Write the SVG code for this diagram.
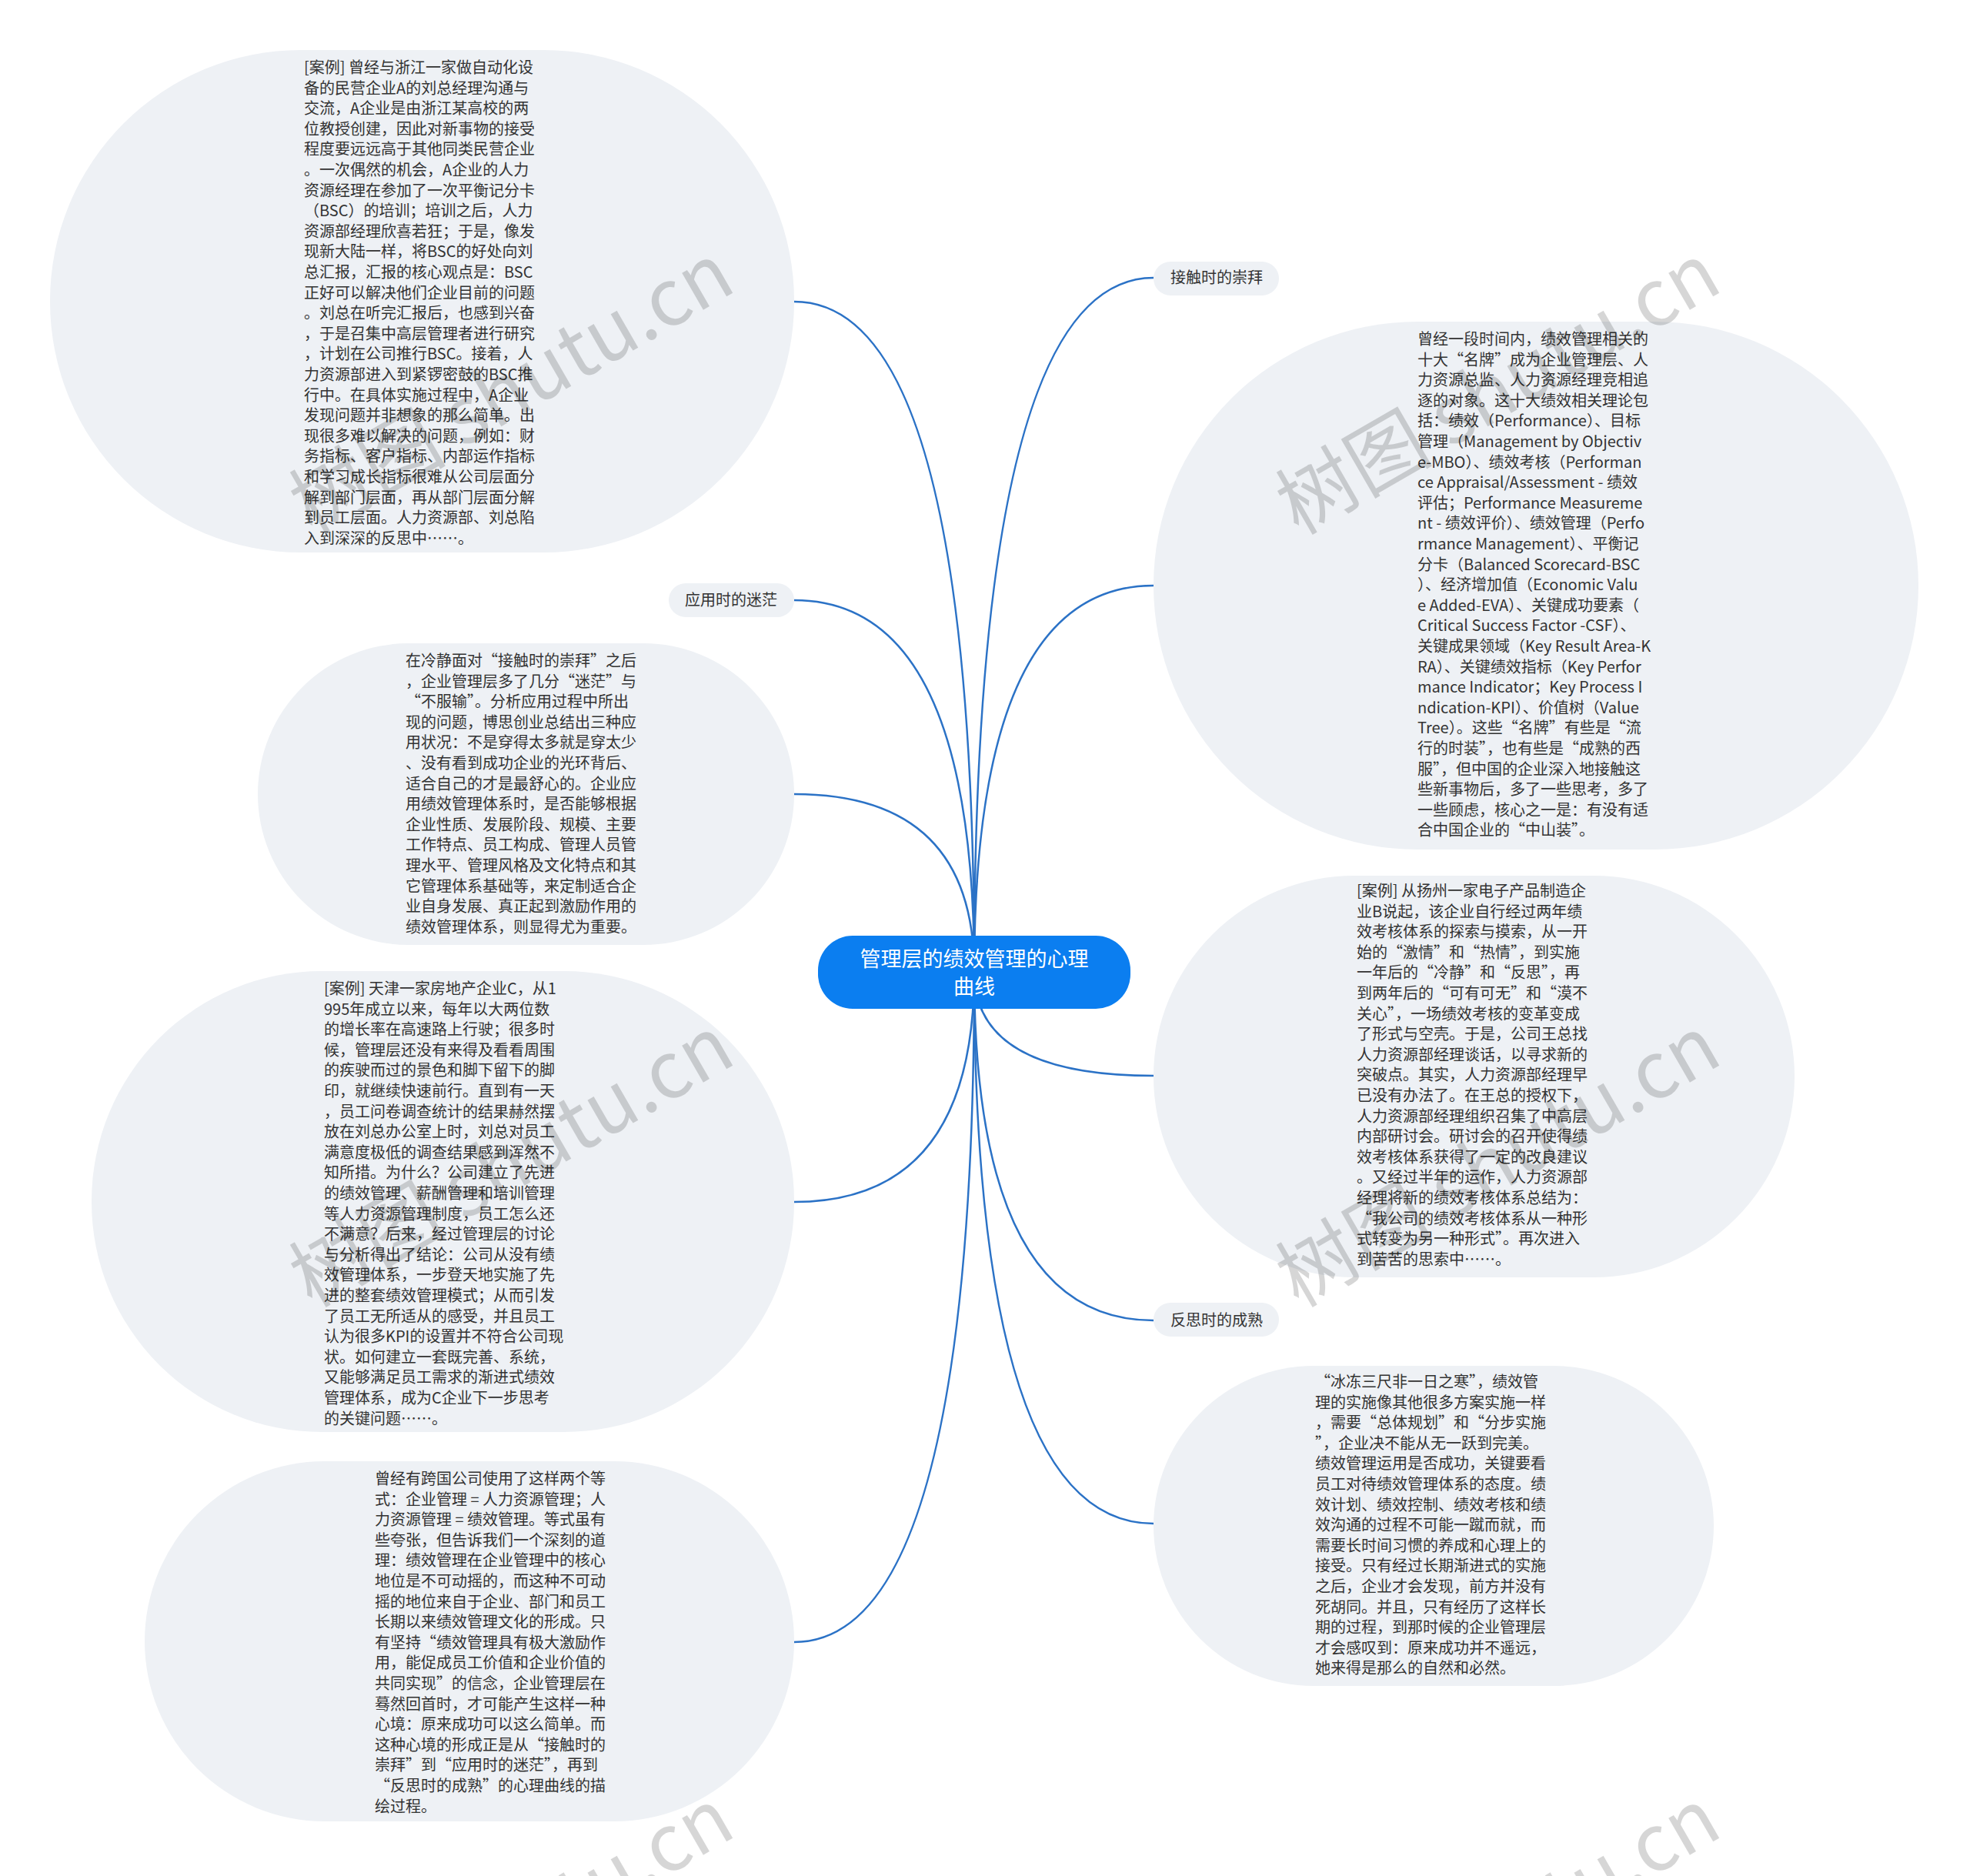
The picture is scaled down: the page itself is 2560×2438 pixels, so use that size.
<svg xmlns="http://www.w3.org/2000/svg" width="2560" height="2438" viewBox="0 0 2560 2438">
<style>
.bub{fill:#eef1f5;}
.t{font-family:"Noto Sans CJK SC","Noto Sans",sans-serif;font-size:20px;fill:#333333;}
.lbl{font-family:"Noto Sans CJK SC","Noto Sans",sans-serif;font-size:20px;fill:#333333;text-anchor:middle;}
.ctr{font-family:"Noto Sans CJK SC","Noto Sans",sans-serif;font-size:27px;fill:#ffffff;text-anchor:middle;}
.wm{font-family:"Noto Sans CJK SC","Noto Sans",sans-serif;font-size:102px;fill:#000000;fill-opacity:0.16;text-anchor:middle;}
.c{fill:none;stroke:#2b72c6;stroke-width:2.5;}
</style>
<rect width="2560" height="2438" fill="#ffffff"/>
<g id="connectors">
<path class="c" d="M1266 1263 Q1266 361 1499 361"/>
<path class="c" d="M1266 1263 Q1266 761 1499 761"/>
<path class="c" d="M1266 1263 Q1266 1398 1499 1398"/>
<path class="c" d="M1266 1263 Q1266 1716 1499 1716"/>
<path class="c" d="M1266 1263 Q1266 1980 1499 1980"/>
<path class="c" d="M1266 1263 Q1266 392 1032 392"/>
<path class="c" d="M1266 1263 Q1266 780 1032 780"/>
<path class="c" d="M1266 1263 Q1266 1032 1032 1032"/>
<path class="c" d="M1266 1263 Q1266 1562 1032 1562"/>
<path class="c" d="M1266 1263 Q1266 2134 1032 2134"/>
</g>
<g id="center">
<rect x="1063" y="1216" width="406" height="95" rx="45" fill="#0b7ef0"/>
<text class="ctr" x="1266" y="1256">管理层的绩效管理的心理</text>
<text class="ctr" x="1266" y="1292">曲线</text>
</g>
<g id="n-jiechu">
<rect class="bub" x="1499" y="340" width="163" height="44" rx="22"/>
<text class="lbl" x="1581" y="368">接触时的崇拜</text>
</g>
<g id="n-r1">
<rect class="bub" x="1499" y="418" width="994" height="686" rx="343"/>
<text class="t" x="1842" y="448"><tspan x="1842">曾经一段时间内，绩效管理相关的</tspan><tspan x="1842" dy="26.6">十大“名牌”成为企业管理层、人</tspan><tspan x="1842" dy="26.6">力资源总监、人力资源经理竞相追</tspan><tspan x="1842" dy="26.6">逐的对象。这十大绩效相关理论包</tspan><tspan x="1842" dy="26.6">括：绩效（Performance）、目标</tspan><tspan x="1842" dy="26.6">管理（Management by Objectiv</tspan><tspan x="1842" dy="26.6">e-MBO）、绩效考核（Performan</tspan><tspan x="1842" dy="26.6">ce Appraisal/Assessment - 绩效</tspan><tspan x="1842" dy="26.6">评估；Performance Measureme</tspan><tspan x="1842" dy="26.6">nt - 绩效评价）、绩效管理（Perfo</tspan><tspan x="1842" dy="26.6">rmance Management）、平衡记</tspan><tspan x="1842" dy="26.6">分卡（Balanced Scorecard-BSC</tspan><tspan x="1842" dy="26.6">）、经济增加值（Economic Valu</tspan><tspan x="1842" dy="26.6">e Added-EVA）、关键成功要素（</tspan><tspan x="1842" dy="26.6">Critical Success Factor -CSF）、</tspan><tspan x="1842" dy="26.6">关键成果领域（Key Result Area-K</tspan><tspan x="1842" dy="26.6">RA）、关键绩效指标（Key Perfor</tspan><tspan x="1842" dy="26.6">mance Indicator；Key Process I</tspan><tspan x="1842" dy="26.6">ndication-KPI）、价值树（Value</tspan><tspan x="1842" dy="26.6">Tree）。这些“名牌”有些是“流</tspan><tspan x="1842" dy="26.6">行的时装”，也有些是“成熟的西</tspan><tspan x="1842" dy="26.6">服”，但中国的企业深入地接触这</tspan><tspan x="1842" dy="26.6">些新事物后，多了一些思考，多了</tspan><tspan x="1842" dy="26.6">一些顾虑，核心之一是：有没有适</tspan><tspan x="1842" dy="26.6">合中国企业的“中山装”。</tspan></text>
</g>
<g id="n-r2">
<rect class="bub" x="1499" y="1138" width="833" height="522" rx="261"/>
<text class="t" x="1763" y="1165"><tspan x="1763">[案例] 从扬州一家电子产品制造企</tspan><tspan x="1763" dy="26.6">业B说起，该企业自行经过两年绩</tspan><tspan x="1763" dy="26.6">效考核体系的探索与摸索，从一开</tspan><tspan x="1763" dy="26.6">始的“激情”和“热情”，到实施</tspan><tspan x="1763" dy="26.6">一年后的“冷静”和“反思”，再</tspan><tspan x="1763" dy="26.6">到两年后的“可有可无”和“漠不</tspan><tspan x="1763" dy="26.6">关心”，一场绩效考核的变革变成</tspan><tspan x="1763" dy="26.6">了形式与空壳。于是，公司王总找</tspan><tspan x="1763" dy="26.6">人力资源部经理谈话，以寻求新的</tspan><tspan x="1763" dy="26.6">突破点。其实，人力资源部经理早</tspan><tspan x="1763" dy="26.6">已没有办法了。在王总的授权下，</tspan><tspan x="1763" dy="26.6">人力资源部经理组织召集了中高层</tspan><tspan x="1763" dy="26.6">内部研讨会。研讨会的召开使得绩</tspan><tspan x="1763" dy="26.6">效考核体系获得了一定的改良建议</tspan><tspan x="1763" dy="26.6">。又经过半年的运作，人力资源部</tspan><tspan x="1763" dy="26.6">经理将新的绩效考核体系总结为：</tspan><tspan x="1763" dy="26.6">“我公司的绩效考核体系从一种形</tspan><tspan x="1763" dy="26.6">式转变为另一种形式”。再次进入</tspan><tspan x="1763" dy="26.6">到苦苦的思索中……。</tspan></text>
</g>
<g id="n-fansi">
<rect class="bub" x="1499" y="1693" width="163" height="44" rx="22"/>
<text class="lbl" x="1581" y="1723">反思时的成熟</text>
</g>
<g id="n-r3">
<rect class="bub" x="1499" y="1775" width="728" height="416" rx="208"/>
<text class="t" x="1709" y="1803"><tspan x="1709">“冰冻三尺非一日之寒”，绩效管</tspan><tspan x="1709" dy="26.6">理的实施像其他很多方案实施一样</tspan><tspan x="1709" dy="26.6">，需要“总体规划”和“分步实施</tspan><tspan x="1709" dy="26.6">”，企业决不能从无一跃到完美。</tspan><tspan x="1709" dy="26.6">绩效管理运用是否成功，关键要看</tspan><tspan x="1709" dy="26.6">员工对待绩效管理体系的态度。绩</tspan><tspan x="1709" dy="26.6">效计划、绩效控制、绩效考核和绩</tspan><tspan x="1709" dy="26.6">效沟通的过程不可能一蹴而就，而</tspan><tspan x="1709" dy="26.6">需要长时间习惯的养成和心理上的</tspan><tspan x="1709" dy="26.6">接受。只有经过长期渐进式的实施</tspan><tspan x="1709" dy="26.6">之后，企业才会发现，前方并没有</tspan><tspan x="1709" dy="26.6">死胡同。并且，只有经历了这样长</tspan><tspan x="1709" dy="26.6">期的过程，到那时候的企业管理层</tspan><tspan x="1709" dy="26.6">才会感叹到：原来成功并不遥远，</tspan><tspan x="1709" dy="26.6">她来得是那么的自然和必然。</tspan></text>
</g>
<g id="n-l1">
<rect class="bub" x="65" y="65" width="967" height="653" rx="326"/>
<text class="t" x="395" y="95"><tspan x="395">[案例] 曾经与浙江一家做自动化设</tspan><tspan x="395" dy="26.6">备的民营企业A的刘总经理沟通与</tspan><tspan x="395" dy="26.6">交流，A企业是由浙江某高校的两</tspan><tspan x="395" dy="26.6">位教授创建，因此对新事物的接受</tspan><tspan x="395" dy="26.6">程度要远远高于其他同类民营企业</tspan><tspan x="395" dy="26.6">。一次偶然的机会，A企业的人力</tspan><tspan x="395" dy="26.6">资源经理在参加了一次平衡记分卡</tspan><tspan x="395" dy="26.6">（BSC）的培训；培训之后，人力</tspan><tspan x="395" dy="26.6">资源部经理欣喜若狂；于是，像发</tspan><tspan x="395" dy="26.6">现新大陆一样，将BSC的好处向刘</tspan><tspan x="395" dy="26.6">总汇报，汇报的核心观点是：BSC</tspan><tspan x="395" dy="26.6">正好可以解决他们企业目前的问题</tspan><tspan x="395" dy="26.6">。刘总在听完汇报后，也感到兴奋</tspan><tspan x="395" dy="26.6">，于是召集中高层管理者进行研究</tspan><tspan x="395" dy="26.6">，计划在公司推行BSC。接着，人</tspan><tspan x="395" dy="26.6">力资源部进入到紧锣密鼓的BSC推</tspan><tspan x="395" dy="26.6">行中。在具体实施过程中，A企业</tspan><tspan x="395" dy="26.6">发现问题并非想象的那么简单。出</tspan><tspan x="395" dy="26.6">现很多难以解决的问题，例如：财</tspan><tspan x="395" dy="26.6">务指标、客户指标、内部运作指标</tspan><tspan x="395" dy="26.6">和学习成长指标很难从公司层面分</tspan><tspan x="395" dy="26.6">解到部门层面，再从部门层面分解</tspan><tspan x="395" dy="26.6">到员工层面。人力资源部、刘总陷</tspan><tspan x="395" dy="26.6">入到深深的反思中……。</tspan></text>
</g>
<g id="n-yingyong">
<rect class="bub" x="869" y="758" width="163" height="44" rx="22"/>
<text class="lbl" x="950" y="787">应用时的迷茫</text>
</g>
<g id="n-l2">
<rect class="bub" x="335" y="836" width="697" height="392" rx="196"/>
<text class="t" x="527" y="866"><tspan x="527">在冷静面对“接触时的崇拜”之后</tspan><tspan x="527" dy="26.6">，企业管理层多了几分“迷茫”与</tspan><tspan x="527" dy="26.6">“不服输”。分析应用过程中所出</tspan><tspan x="527" dy="26.6">现的问题，博思创业总结出三种应</tspan><tspan x="527" dy="26.6">用状况：不是穿得太多就是穿太少</tspan><tspan x="527" dy="26.6">、没有看到成功企业的光环背后、</tspan><tspan x="527" dy="26.6">适合自己的才是最舒心的。企业应</tspan><tspan x="527" dy="26.6">用绩效管理体系时，是否能够根据</tspan><tspan x="527" dy="26.6">企业性质、发展阶段、规模、主要</tspan><tspan x="527" dy="26.6">工作特点、员工构成、管理人员管</tspan><tspan x="527" dy="26.6">理水平、管理风格及文化特点和其</tspan><tspan x="527" dy="26.6">它管理体系基础等，来定制适合企</tspan><tspan x="527" dy="26.6">业自身发展、真正起到激励作用的</tspan><tspan x="527" dy="26.6">绩效管理体系，则显得尤为重要。</tspan></text>
</g>
<g id="n-l3">
<rect class="bub" x="119" y="1262" width="913" height="599" rx="299"/>
<text class="t" x="421" y="1292"><tspan x="421">[案例] 天津一家房地产企业C，从1</tspan><tspan x="421" dy="26.6">995年成立以来，每年以大两位数</tspan><tspan x="421" dy="26.6">的增长率在高速路上行驶；很多时</tspan><tspan x="421" dy="26.6">候，管理层还没有来得及看看周围</tspan><tspan x="421" dy="26.6">的疾驶而过的景色和脚下留下的脚</tspan><tspan x="421" dy="26.6">印，就继续快速前行。直到有一天</tspan><tspan x="421" dy="26.6">，员工问卷调查统计的结果赫然摆</tspan><tspan x="421" dy="26.6">放在刘总办公室上时，刘总对员工</tspan><tspan x="421" dy="26.6">满意度极低的调查结果感到浑然不</tspan><tspan x="421" dy="26.6">知所措。为什么？公司建立了先进</tspan><tspan x="421" dy="26.6">的绩效管理、薪酬管理和培训管理</tspan><tspan x="421" dy="26.6">等人力资源管理制度，员工怎么还</tspan><tspan x="421" dy="26.6">不满意？后来，经过管理层的讨论</tspan><tspan x="421" dy="26.6">与分析得出了结论：公司从没有绩</tspan><tspan x="421" dy="26.6">效管理体系，一步登天地实施了先</tspan><tspan x="421" dy="26.6">进的整套绩效管理模式；从而引发</tspan><tspan x="421" dy="26.6">了员工无所适从的感受，并且员工</tspan><tspan x="421" dy="26.6">认为很多KPI的设置并不符合公司现</tspan><tspan x="421" dy="26.6">状。如何建立一套既完善、系统，</tspan><tspan x="421" dy="26.6">又能够满足员工需求的渐进式绩效</tspan><tspan x="421" dy="26.6">管理体系，成为C企业下一步思考</tspan><tspan x="421" dy="26.6">的关键问题……。</tspan></text>
</g>
<g id="n-l4">
<rect class="bub" x="188" y="1899" width="844" height="468" rx="234"/>
<text class="t" x="487" y="1929"><tspan x="487">曾经有跨国公司使用了这样两个等</tspan><tspan x="487" dy="26.6">式：企业管理 = 人力资源管理；人</tspan><tspan x="487" dy="26.6">力资源管理 = 绩效管理。等式虽有</tspan><tspan x="487" dy="26.6">些夸张，但告诉我们一个深刻的道</tspan><tspan x="487" dy="26.6">理：绩效管理在企业管理中的核心</tspan><tspan x="487" dy="26.6">地位是不可动摇的，而这种不可动</tspan><tspan x="487" dy="26.6">摇的地位来自于企业、部门和员工</tspan><tspan x="487" dy="26.6">长期以来绩效管理文化的形成。只</tspan><tspan x="487" dy="26.6">有坚持“绩效管理具有极大激励作</tspan><tspan x="487" dy="26.6">用，能促成员工价值和企业价值的</tspan><tspan x="487" dy="26.6">共同实现”的信念，企业管理层在</tspan><tspan x="487" dy="26.6">蓦然回首时，才可能产生这样一种</tspan><tspan x="487" dy="26.6">心境：原来成功可以这么简单。而</tspan><tspan x="487" dy="26.6">这种心境的形成正是从“接触时的</tspan><tspan x="487" dy="26.6">崇拜”到“应用时的迷茫”，再到</tspan><tspan x="487" dy="26.6">“反思时的成熟”的心理曲线的描</tspan><tspan x="487" dy="26.6">绘过程。</tspan></text>
</g>
<g id="watermarks">
<text class="wm" transform="translate(665 506) rotate(-30)" y="35">树图 shutu.cn</text>
<text class="wm" transform="translate(1947 506) rotate(-30)" y="35">树图 shutu.cn</text>
<text class="wm" transform="translate(665 1510) rotate(-30)" y="35">树图 shutu.cn</text>
<text class="wm" transform="translate(1947 1510) rotate(-30)" y="35">树图 shutu.cn</text>
<text class="wm" transform="translate(665 2514) rotate(-30)" y="35">树图 shutu.cn</text>
<text class="wm" transform="translate(1947 2514) rotate(-30)" y="35">树图 shutu.cn</text>
</g>
</svg>
